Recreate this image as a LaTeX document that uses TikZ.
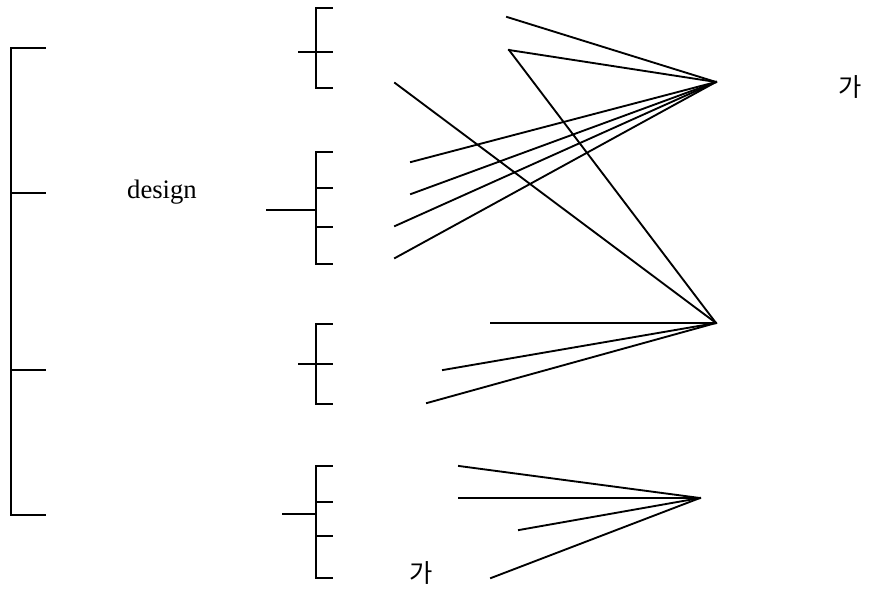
\documentclass[tikz,border=0pt]{standalone}
\usepackage{fontspec}
\setmainfont{Liberation Serif}
\newfontfamily\kor{Noto Sans CJK KR}
\usepackage{tikz}
\usetikzlibrary{positioning}
\tikzset{
  % linee del diagramma
  ln/.style={line width=1.4pt,line cap=rect},
  lbl/.style={inner sep=0pt,font=\fontsize{20}{24}\selectfont},
  klbl/.style={inner sep=0pt,font=\kor\fontsize{19}{22}\selectfont}
}
\begin{document}
\begin{tikzpicture}[x=0.75pt,y=-0.75pt]
      \useasboundingbox (0,0) rectangle (870,589);
      % parentesi grande a sinistra
      \draw[ln] (45,48) -- (11,48) -- (11,515) -- (45,515);
      \draw[ln] (11,193) -- (45,193);
      \draw[ln] (11,370) -- (45,370);
      \node[lbl] (dsg) at (162,192) {design};
      % gruppi di parentesi
      \draw[ln] (332,8) -- (316,8) -- (316,88) -- (332,88);
      \draw[ln] (299,52) -- (332,52);
      \draw[ln] (332,152) -- (316,152) -- (316,264) -- (332,264);
      \draw[ln] (316,188) -- (332,188);
      \draw[ln] (316,227) -- (332,227);
      \draw[ln] (267,210) -- (316,210);
      \draw[ln] (332,324) -- (316,324) -- (316,404) -- (332,404);
      \draw[ln] (299,364) -- (332,364);
      \draw[ln] (332,466) -- (316,466) -- (316,578) -- (332,578);
      \draw[ln] (316,502) -- (332,502);
      \draw[ln] (316,536) -- (332,536);
      \draw[ln] (283,514) -- (316,514);
      % punti di raccolta
      \coordinate (A) at (716,82);
      \coordinate (B) at (716,323);
      \coordinate (C) at (700,498);
      % estremi liberi
      \coordinate (a1) at (507,17);
      \coordinate (a2) at (509,50);
      \coordinate (a3) at (411,162);
      \coordinate (a4) at (411,194);
      \coordinate (a5) at (395,226);
      \coordinate (a6) at (395,258);
      \coordinate (b0) at (395,83);
      \coordinate (b1) at (491,323);
      \coordinate (b2) at (443,370);
      \coordinate (b3) at (427,403);
      \coordinate (c1) at (459,466);
      \coordinate (c2) at (459,498);
      \coordinate (c3) at (519,530);
      \coordinate (c4) at (491,578);
      \foreach \p in {a1,a2,a3,a4,a5,a6}
        \draw[ln] (\p) -- (A);
      \foreach \p in {a2,b0,b1,b2,b3}
        \draw[ln] (\p) -- (B);
      \foreach \p in {c1,c2,c3,c4}
        \draw[ln] (\p) -- (C);
      \node[klbl] (ka) at (850,87) {가};
      \node[klbl] (kb) at (421,573) {가};
    \end{tikzpicture}
\end{document}
